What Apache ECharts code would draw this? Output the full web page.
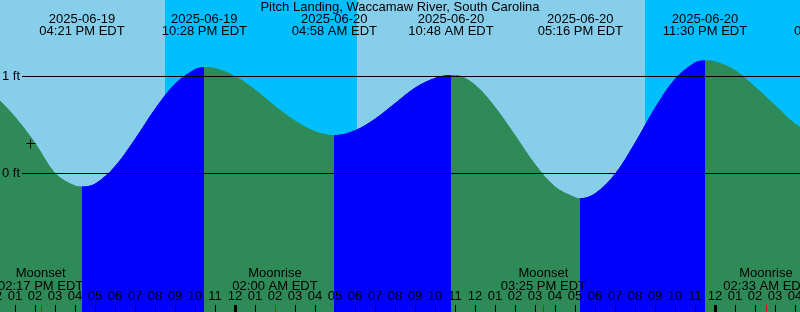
<!DOCTYPE html>
<html>
<head>
<meta charset="utf-8">
<script src="https://cdn.jsdelivr.net/npm/echarts@6/dist/echarts.min.js"></script>
<style>
html, body { margin: 0; padding: 0; }
#main { width: 800px; height: 312px; }
</style>
</head>
<body>
<div id="main"></div>
<script>
var title = 'Pitch Landing, Waccamaw River, South Carolina';

// 高低潮 (时间, 英尺)
var tideTimes = ['2025-06-19 10:06', '2025-06-19 16:21', '2025-06-19 22:28', '2025-06-20 04:58',
	'2025-06-20 10:48', '2025-06-20 17:16', '2025-06-20 23:30', '2025-06-21 06:05'];
var tideLevels = [1.05, -0.14, 1.09, 0.39, 1.01, -0.26, 1.16, 0.35];

// 每小时潮位, 从 2025-06-19 12:00 起
var hourLevels = [0.80, 0.58, 0.31, 0.00, -0.13, -0.11, 0.07, 0.35, 0.66, 0.92,
	1.07, 1.08, 1.00, 0.86, 0.69, 0.54, 0.43, 0.39, 0.44, 0.56,
	0.72, 0.88, 0.98, 1.01, 0.91, 0.68, 0.39, 0.09, -0.14, -0.25,
	-0.21, -0.01, 0.31, 0.67, 0.97, 1.14, 1.15, 1.06, 0.89, 0.70,
	0.51, 0.39];

// 夜间 (日落, 日出)
var nights = [['2025-06-19 20:30', '2025-06-20 06:06'], ['2025-06-20 20:30', '2025-06-21 06:06']];

// 月出月落
var moonTimes = ['2025-06-19 14:17', '2025-06-20 02:00', '2025-06-20 15:25', '2025-06-21 02:33'];
var moonNames = ['Moonset', 'Moonrise', 'Moonset', 'Moonrise'];

var levelLines = [0, 1];
var markTime = '2025-06-19 13:45';
var markLevel = 0.31;

var fontFamily = '"Liberation Sans", Arial, sans-serif';
var font = '13px ' + fontFamily;

function toHour(s) {
	var d = s.split(' '), ymd = d[0].split('-'), hm = d[1].split(':');
	return (+ymd[2] - 19) * 24 + (+hm[0]) + (+hm[1]) / 60 - 12;
}
function clock(s) {
	var hm = s.split(' ')[1].split(':'), h = +hm[0];
	var ap = h >= 12 ? 'PM' : 'AM';
	h = h % 12;
	if (h == 0) h = 12;
	return (h < 10 ? '0' : '') + h + ':' + hm[1] + ' ' + ap + ' EDT';
}

// 曲线数据
var pts = [];
var extH = tideTimes.map(toHour);
hourLevels.forEach(function (v, i) {
	var near = extH.some(function (e) { return Math.abs(e - i) < 0.1; });
	if (!near) pts.push([i, v]);
});
extH.forEach(function (h, i) {
	if (h >= 0 && h <= 41) pts.push([h, tideLevels[i]]);
});
pts.sort(function (a, b) { return a[0] - b[0]; });

// 涨潮蓝色, 落潮绿色
var pieces = [];
for (var i = 0; i < extH.length - 1; i++) {
	pieces.push({
		gte: extH[i], lt: extH[i + 1],
		color: tideLevels[i + 1] > tideLevels[i] ? '#0000ff' : '#2e8b57'
	});
}

var myChart = echarts.init(document.getElementById('main'));
var option = {
	animation: false,
	grid: {
		left: -5, right: -15, top: 0, bottom: 0,
		outerBoundsMode: 'none', containLabel: false,
		show: true, backgroundColor: '#87ceeb', borderWidth: 0
	},
	xAxis: {
		type: 'value', min: 0, max: 41, interval: 1, z: 50,
		axisLine: { show: false, onZero: false },
		splitLine: { show: false },
		axisTick: { inside: true, length: 7, lineStyle: { color: '#000', width: 1 } },
		axisLabel: {
			inside: true, margin: 9, color: '#000', fontSize: 13,
			showMinLabel: true, showMaxLabel: true, hideOverlap: false,
			fontFamily: fontFamily,
			formatter: function (v) {
				var h = (v + 12) % 12;
				if (h == 0) h = 12;
				return (h < 10 ? '0' : '') + h;
			}
		}
	},
	yAxis: { type: 'value', min: -1.4278, max: 1.7887, show: false, splitLine: { show: false } },
	visualMap: { show: false, type: 'piecewise', dimension: 0, seriesIndex: 0, pieces: pieces },
	series: [{
		type: 'line',
		data: pts,
		smooth: 0.35,
		symbol: 'none',
		lineStyle: { width: 1 },
		areaStyle: { opacity: 1, origin: 'start' },
		markArea: {
			silent: true,
			itemStyle: { color: '#00bfff' },
			data: nights.map(function (n) { return [{ xAxis: toHour(n[0]) }, { xAxis: toHour(n[1]) }]; })
		}
	}]
};
myChart.setOption(option);

// 文字和刻度
function px(h, v) { return myChart.convertToPixel({ gridIndex: 0 }, [h, v]); }
var g = [];
function text(x, y, s, align) {
	g.push({ type: 'text', x: x, y: y, z: 100,
		style: { text: s, font: font, fill: '#000', align: align || 'center', verticalAlign: 'middle' } });
}
text(400, 7, title);
tideTimes.forEach(function (t) {
	var x = px(toHour(t), 0)[0];
	text(x, 19, t.split(' ')[0]);
	text(x, 31, clock(t));
});
moonTimes.forEach(function (t, i) {
	var x = px(toHour(t), 0)[0];
	text(x, 273, moonNames[i]);
	text(x, 286, clock(t));
	var xr = Math.round(x) + 0.5;
	g.push({ type: 'line', z: 100, shape: { x1: xr, y1: 305, x2: xr, y2: 312 }, style: { stroke: '#ff0000', lineWidth: 1 } });
});
for (var h = 0; h <= 41; h++) {
	if ((h + 12) % 24 == 0) {
		var mx = px(h, 0)[0];
		g.push({ type: 'rect', z: 100, shape: { x: mx - 1, y: 305, width: 3, height: 7 }, style: { fill: '#000' } });
	}
}
levelLines.forEach(function (v) {
	var y = px(0, v)[1];
	g.push({ type: 'line', z: 100, shape: { x1: 22, y1: y, x2: 800, y2: y }, style: { stroke: '#000', lineWidth: 1 } });
	text(2, y, v + ' ft', 'left');
});
var mp = px(toHour(markTime), markLevel);
var mxp = Math.round(mp[0]) + 0.5, myp = Math.round(mp[1]) + 0.5;
g.push({ type: 'line', z: 100, shape: { x1: mxp - 4, y1: myp, x2: mxp + 5, y2: myp }, style: { stroke: '#000', lineWidth: 1 } });
g.push({ type: 'line', z: 100, shape: { x1: mxp, y1: myp - 4, x2: mxp, y2: myp + 5 }, style: { stroke: '#000', lineWidth: 1 } });

myChart.setOption({ graphic: g });
</script>
</body>
</html>
